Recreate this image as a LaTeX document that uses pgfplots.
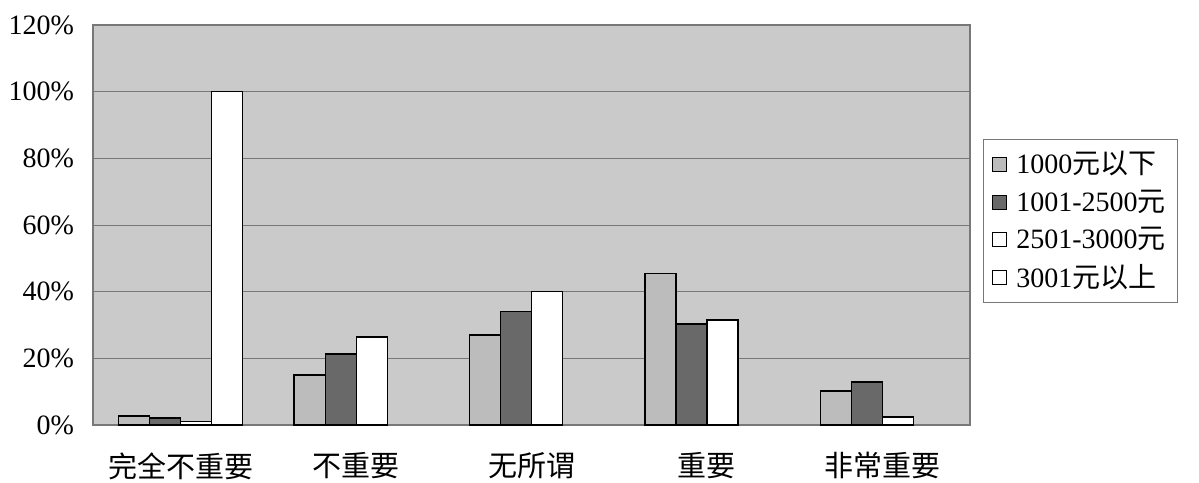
\documentclass[border=0pt]{standalone}
\usepackage{fontspec}
\setmainfont{Liberation Serif}
\newfontfamily\cjk{Noto Sans CJK SC}
\usepackage{pgfplots}
\pgfplotsset{compat=1.18}
\definecolor{plotbg}{RGB}{202,202,202}
\definecolor{lightbar}{RGB}{188,188,188}
\definecolor{darkbar}{RGB}{105,105,105}
\definecolor{gridc}{RGB}{120,120,120}
\begin{document}
\begin{tikzpicture}
\path[use as bounding box] (-46.5pt,-28.5pt) rectangle (553pt,212.5pt);
\begin{axis}[
    at={(0,0)}, anchor=south west,
    scale only axis,
    width=438.5pt, height=200pt,
    ybar=0pt, bar width=15.5pt,
    xmin=-0.5, xmax=4.5,
    ymin=0, ymax=120,
    xtick={0,1,2,3,4},
    xticklabels={{\cjk 完全不重要},{\cjk 不重要},{\cjk 无所谓},{\cjk 重要},{\cjk 非常重要}},
    xticklabel style={font=\fontsize{14.5}{16}\selectfont, yshift=-6pt},
    major x tick style={draw=none},
    extra x ticks={0.5,1.5,2.5,3.5},
    extra x tick labels={},
    extra x tick style={major tick length=5pt, tick style={gridc}, grid=none},
    ytick={0,20,40,60,80,100,120},
    yticklabels={0\%,20\%,40\%,60\%,80\%,100\%,120\%},
    yticklabel style={font=\fontsize{14}{16}\selectfont, xshift=-6pt},
    major y tick style={draw=none},
    ymajorgrids,
    grid style={gridc, line width=0.5pt},
    axis background/.style={fill=plotbg},
    axis line style={gridc, line width=0.6pt},
    legend style={
        at={(1.015,0.51)}, anchor=west,
        draw=gridc, fill=white,
        font=\fontsize{14}{16}\selectfont,
        row sep=2.5pt, inner xsep=4pt, inner ysep=4pt,
        cells={anchor=west},
    },
    legend image code/.code={
        \draw[#1, line width=0.4pt] (0pt,-3.5pt) rectangle (7pt,3.5pt);
    },
]
\addplot[fill=lightbar, draw=black, line width=0.6pt] coordinates {
    (0,2.7) (1,15.0) (2,27.0) (3,45.5) (4,10.2)
};
\addplot[fill=darkbar, draw=black, line width=0.6pt] coordinates {
    (0,2.1) (1,21.3) (2,34.0) (3,30.3) (4,12.9)
};
\addplot[fill=white, draw=black, line width=0.6pt] coordinates {
    (0,1.0) (1,26.4) (2,40.0) (3,31.5) (4,2.4)
};
\addplot[fill=white, draw=black, line width=0.6pt] coordinates {
    (0,100.0)
};
\legend{\hspace{3pt}1000{\cjk 元以下},\hspace{3pt}1001-2500{\cjk 元},\hspace{3pt}2501-3000{\cjk 元},\hspace{3pt}3001{\cjk 元以上}}
\end{axis}
\end{tikzpicture}
\end{document}
